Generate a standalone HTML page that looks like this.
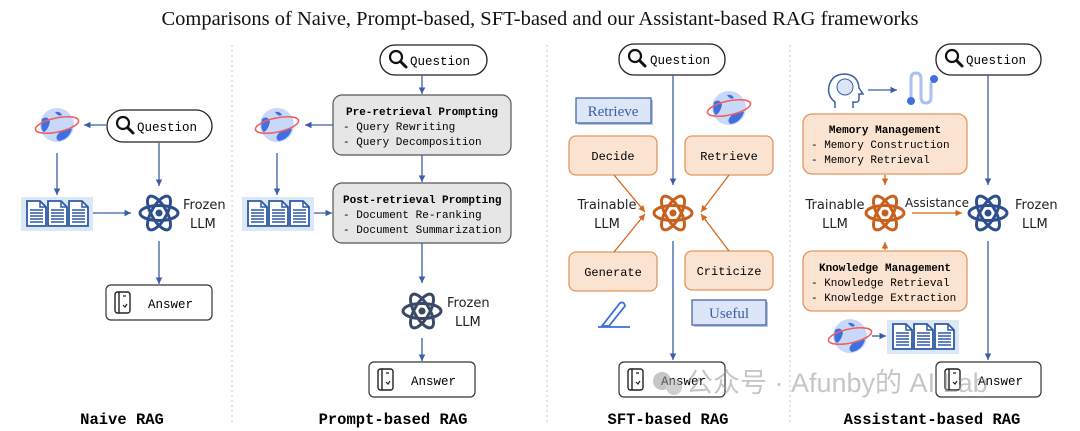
<!DOCTYPE html>
<html><head><meta charset="utf-8"><style>
html,body{margin:0;padding:0;background:#fff;}
svg{display:block}
.m{font-family:"Liberation Mono",monospace;}
.s{font-family:"DejaVu Sans","Liberation Sans",sans-serif;}
</style></head><body>
<svg width="1080" height="431" viewBox="0 0 1080 431" xmlns="http://www.w3.org/2000/svg">
<defs>
<marker id="ab" markerWidth="6" markerHeight="6" refX="5" refY="3" orient="auto"><path d="M0,0.5 L5,3 L0,5.5 z" fill="#3a5ea8"/></marker>
<marker id="ao" markerWidth="6" markerHeight="6" refX="5" refY="3" orient="auto"><path d="M0,0.5 L5,3 L0,5.5 z" fill="#d2691e"/></marker>
<g id="atom">
<ellipse cx="0" cy="0" rx="19" ry="7.5" fill="none" stroke-width="3"/>
<ellipse cx="0" cy="0" rx="19" ry="7.5" fill="none" stroke-width="3" transform="rotate(60)"/>
<ellipse cx="0" cy="0" rx="19" ry="7.5" fill="none" stroke-width="3" transform="rotate(120)"/>
<circle r="3.5" stroke="none"/>
</g>
<g id="globe">
<circle r="17" fill="#c8d8f8"/>
<path d="M-15,-6 q6,-4 8,3 q-2,8 -6,10 q-4,-2 -2,-13z" fill="#3f6fe0"/>
<path d="M4,6 q8,-4 11,-2 q-3,10 -13,12 q-6,-3 2,-10z" fill="#3f6fe0"/>
<path d="M-2,-13 q5,-1 7,3 q-4,2 -7,-3z" fill="#3f6fe0"/>
<ellipse rx="22" ry="7" fill="none" stroke="#f06060" stroke-width="1.6" transform="rotate(-12)"/>
</g>
<g id="doc">
<path d="M0,0 h13 l6,6 v19 h-19 z" fill="#fff" stroke="#2e5aa8" stroke-width="1.8"/>
<path d="M13,0 v6 h6" fill="none" stroke="#2e5aa8" stroke-width="1.5"/>
<path d="M3,9 h13 M3,12 h13 M3,15 h13 M3,18 h13 M3,21 h13" stroke="#2e5aa8" stroke-width="1.5"/>
</g>
<g id="docs">
<rect x="0" y="0" width="72" height="34" fill="#dce8f6"/>
<use href="#doc" x="6" y="4"/><use href="#doc" x="27" y="4"/><use href="#doc" x="48" y="4"/>
</g>
<g id="mag">
<circle cx="7" cy="7" r="6" fill="none" stroke="#111" stroke-width="2.2"/>
<path d="M11.5,11.5 L17,17" stroke="#111" stroke-width="3" stroke-linecap="round"/>
</g>
<g id="ans">
<rect x="0" y="0" width="15" height="21" rx="2.5" fill="none" stroke="#222" stroke-width="1.4"/>
<path d="M4,0 v21" stroke="#222" stroke-width="1.4"/>
<path d="M8,4 h3 M8,13 l2,2 l2,-3" stroke="#222" stroke-width="1.2" fill="none"/>
</g>
</defs>

<text x="540" y="25" text-anchor="middle" font-family="Liberation Serif, serif" font-size="20.5" fill="#111">Comparisons of Naive, Prompt-based, SFT-based and our Assistant-based RAG frameworks</text>

<g stroke="#c8c8c8" stroke-width="1" stroke-dasharray="2,3">
<line x1="232" y1="45" x2="232" y2="425"/>
<line x1="547" y1="45" x2="547" y2="425"/>
<line x1="790" y1="45" x2="790" y2="425"/>
</g>

<!-- Naive -->
<rect x="107" y="110" width="105" height="32" rx="16" fill="#fff" stroke="#222" stroke-width="1.3"/>
<use href="#mag" x="116" y="116"/>
<text x="137" y="131" class="m" font-size="12.5">Question</text>
<use href="#globe" x="57" y="125"/>
<line x1="106" y1="125" x2="84" y2="125" stroke="#3a5ea8" stroke-width="1.3" marker-end="url(#ab)"/>
<line x1="57" y1="153" x2="57" y2="195" stroke="#3a5ea8" stroke-width="1.3" marker-end="url(#ab)"/>
<use href="#docs" x="21" y="197"/>
<line x1="93" y1="213" x2="131" y2="213" stroke="#3a5ea8" stroke-width="1.3" marker-end="url(#ab)"/>
<line x1="159" y1="143" x2="159" y2="186" stroke="#3a5ea8" stroke-width="1.3" marker-end="url(#ab)"/>
<use href="#atom" x="159" y="213" stroke="#2e4f8f" fill="#2e4f8f"/>
<text x="183" y="209" class="s" font-size="13" fill="#222">Frozen</text>
<text x="190" y="228" class="s" font-size="13" fill="#222">LLM</text>
<line x1="159" y1="241" x2="159" y2="284" stroke="#3a5ea8" stroke-width="1.3" marker-end="url(#ab)"/>
<rect x="106" y="285" width="106" height="35" rx="5" fill="#fff" stroke="#333" stroke-width="1.2"/>
<use href="#ans" x="115" y="292"/>
<text x="148" y="308" class="m" font-size="12.5">Answer</text>
<text x="122" y="424" text-anchor="middle" class="m" font-size="15.5" font-weight="bold">Naive RAG</text>

<!-- Prompt -->
<rect x="380" y="45" width="107" height="30" rx="15" fill="#fff" stroke="#222" stroke-width="1.3"/>
<use href="#mag" x="389" y="50"/>
<text x="410" y="65" class="m" font-size="12.5">Question</text>
<line x1="422" y1="75" x2="422" y2="94" stroke="#3a5ea8" stroke-width="1.3" marker-end="url(#ab)"/>
<rect x="333" y="95" width="178" height="60" rx="9" fill="#e6e6e6" stroke="#555" stroke-width="1.2"/>
<text x="346" y="115" class="m" font-size="11" font-weight="bold">Pre-retrieval Prompting</text>
<text x="343" y="130" class="m" font-size="11">- Query Rewriting</text>
<text x="343" y="145" class="m" font-size="11">- Query Decomposition</text>
<use href="#globe" x="277" y="125"/>
<line x1="333" y1="125" x2="305" y2="125" stroke="#3a5ea8" stroke-width="1.3" marker-end="url(#ab)"/>
<line x1="277" y1="153" x2="277" y2="195" stroke="#3a5ea8" stroke-width="1.3" marker-end="url(#ab)"/>
<line x1="422" y1="155" x2="422" y2="182" stroke="#3a5ea8" stroke-width="1.3" marker-end="url(#ab)"/>
<rect x="333" y="183" width="178" height="60" rx="9" fill="#e6e6e6" stroke="#555" stroke-width="1.2"/>
<text x="343" y="203" class="m" font-size="11" font-weight="bold">Post-retrieval Prompting</text>
<text x="343" y="218" class="m" font-size="11">- Document Re-ranking</text>
<text x="343" y="233" class="m" font-size="11">- Document Summarization</text>
<use href="#docs" x="242" y="197"/>
<line x1="314" y1="213" x2="332" y2="213" stroke="#3a5ea8" stroke-width="1.3" marker-end="url(#ab)"/>
<line x1="422" y1="243" x2="422" y2="283" stroke="#3a5ea8" stroke-width="1.3" marker-end="url(#ab)"/>
<use href="#atom" x="422" y="311" stroke="#3a4a66" fill="#3a4a66"/>
<text x="447" y="307" class="s" font-size="13" fill="#222">Frozen</text>
<text x="455" y="326" class="s" font-size="13" fill="#222">LLM</text>
<line x1="422" y1="338" x2="422" y2="361" stroke="#3a5ea8" stroke-width="1.3" marker-end="url(#ab)"/>
<rect x="369" y="362" width="106" height="35" rx="5" fill="#fff" stroke="#333" stroke-width="1.2"/>
<use href="#ans" x="378" y="369"/>
<text x="411" y="385" class="m" font-size="12.5">Answer</text>
<text x="393" y="424" text-anchor="middle" class="m" font-size="15.5" font-weight="bold">Prompt-based RAG</text>

<!-- SFT -->
<rect x="619" y="44" width="106" height="31" rx="15" fill="#fff" stroke="#222" stroke-width="1.3"/>
<use href="#mag" x="628" y="49"/>
<text x="650" y="64" class="m" font-size="12.5">Question</text>
<line x1="673" y1="75" x2="673" y2="185" stroke="#3a5ea8" stroke-width="1.3" marker-end="url(#ab)"/>
<rect x="578" y="100" width="75" height="25" fill="#b8c4d8"/>
<rect x="576" y="98" width="75" height="25" fill="#dce6f6" stroke="#3a5ea8" stroke-width="1.2"/>
<text x="613" y="116" text-anchor="middle" font-family="Liberation Serif, serif" font-size="15" fill="#3a5ea8">Retrieve</text>
<use href="#globe" x="729" y="108"/>
<g fill="#fbe3d2" stroke="#e3965d" stroke-width="1.3">
<rect x="569" y="136" width="88" height="39" rx="7"/>
<rect x="685" y="136" width="88" height="39" rx="7"/>
<rect x="569" y="252" width="88" height="39" rx="7"/>
<rect x="685" y="251" width="88" height="39" rx="7"/>
</g>
<text x="613" y="160" text-anchor="middle" class="m" font-size="12">Decide</text>
<text x="729" y="160" text-anchor="middle" class="m" font-size="12">Retrieve</text>
<text x="613" y="276" text-anchor="middle" class="m" font-size="12">Generate</text>
<text x="729" y="275" text-anchor="middle" class="m" font-size="12">Criticize</text>
<g stroke="#d2691e" stroke-width="1.3" fill="none">
<line x1="614" y1="175" x2="645" y2="212" marker-end="url(#ao)"/>
<line x1="614" y1="252" x2="645" y2="214" marker-end="url(#ao)"/>
<line x1="729" y1="175" x2="701" y2="212" marker-end="url(#ao)"/>
<line x1="729" y1="251" x2="701" y2="214" marker-end="url(#ao)"/>
</g>
<text x="607" y="209" text-anchor="middle" class="s" font-size="13" fill="#222">Trainable</text>
<text x="607" y="228" text-anchor="middle" class="s" font-size="13" fill="#222">LLM</text>
<use href="#atom" x="673" y="213" stroke="#c8601e" fill="#c8601e"/>
<line x1="673" y1="241" x2="673" y2="360" stroke="#3a5ea8" stroke-width="1.3" marker-end="url(#ab)"/>
<path d="M602,326 L620,303 q4,-2 5,3 L609,326 z M598,327 h32" fill="none" stroke="#3a6fd8" stroke-width="1.8"/>
<rect x="694" y="302" width="74" height="25" fill="#b8c4d8"/>
<rect x="692" y="300" width="74" height="25" fill="#dce6f6" stroke="#3a5ea8" stroke-width="1.2"/>
<text x="729" y="318" text-anchor="middle" font-family="Liberation Serif, serif" font-size="15" fill="#3a5ea8">Useful</text>
<rect x="619" y="362" width="106" height="35" rx="5" fill="#fff" stroke="#333" stroke-width="1.2"/>
<use href="#ans" x="628" y="369"/>
<text x="661" y="385" class="m" font-size="12.5">Answer</text>
<text x="668" y="424" text-anchor="middle" class="m" font-size="15.5" font-weight="bold">SFT-based RAG</text>

<!-- Assistant -->
<rect x="936" y="44" width="105" height="31" rx="15" fill="#fff" stroke="#222" stroke-width="1.3"/>
<use href="#mag" x="945" y="49"/>
<text x="966" y="64" class="m" font-size="12.5">Question</text>
<line x1="988" y1="75" x2="988" y2="185" stroke="#3a5ea8" stroke-width="1.3" marker-end="url(#ab)"/>
<path d="M835,108 v-6 q-8,-6 -6,-16 q3,-12 16,-12 q13,1 14,14 l4,6 h-4 v5 q0,4 -6,3 v6" fill="none" stroke="#3a5ea8" stroke-width="1.5"/>
<circle cx="845" cy="87" r="8" fill="#dce6f6" stroke="#3a5ea8" stroke-width="1"/>
<line x1="868" y1="90" x2="897" y2="90" stroke="#3a5ea8" stroke-width="1.3" marker-end="url(#ab)"/>
<path d="M911,101 v-22 q0,-6 5,-6 q5,0 5,6 v18 q0,6 5,6 q5,0 5,-6 v-15" fill="none" stroke="#a9c0f0" stroke-width="3"/>
<circle cx="911" cy="101" r="4" fill="#3f6fe0"/><circle cx="934" cy="79" r="4" fill="#3f6fe0"/>
<rect x="803" y="114" width="164" height="60" rx="9" fill="#fbe3d2" stroke="#e3965d" stroke-width="1.3"/>
<text x="885" y="133" text-anchor="middle" class="m" font-size="11" font-weight="bold">Memory Management</text>
<text x="811" y="148" class="m" font-size="11">- Memory Construction</text>
<text x="811" y="163" class="m" font-size="11">- Memory Retrieval</text>
<line x1="885" y1="175" x2="885" y2="185" stroke="#d2691e" stroke-width="1.3" marker-end="url(#ao)"/>
<use href="#atom" x="885" y="213" stroke="#c8601e" fill="#c8601e"/>
<text x="835" y="209" text-anchor="middle" class="s" font-size="13" fill="#222">Trainable</text>
<text x="835" y="228" text-anchor="middle" class="s" font-size="13" fill="#222">LLM</text>
<text x="937" y="207" text-anchor="middle" class="s" font-size="12" fill="#222">Assistance</text>
<line x1="912" y1="213" x2="962" y2="213" stroke="#d2691e" stroke-width="1.3" marker-end="url(#ao)"/>
<use href="#atom" x="988" y="213" stroke="#2e4f8f" fill="#2e4f8f"/>
<text x="1015" y="209" class="s" font-size="13" fill="#222">Frozen</text>
<text x="1022" y="228" class="s" font-size="13" fill="#222">LLM</text>
<line x1="885" y1="250" x2="885" y2="242" stroke="#d2691e" stroke-width="1.3" marker-end="url(#ao)"/>
<rect x="803" y="251" width="164" height="60" rx="9" fill="#fbe3d2" stroke="#e3965d" stroke-width="1.3"/>
<text x="885" y="271" text-anchor="middle" class="m" font-size="11" font-weight="bold">Knowledge Management</text>
<text x="811" y="286" class="m" font-size="11">- Knowledge Retrieval</text>
<text x="811" y="301" class="m" font-size="11">- Knowledge Extraction</text>
<use href="#globe" x="850" y="336"/>
<line x1="872" y1="336" x2="886" y2="336" stroke="#3a5ea8" stroke-width="1.3" marker-end="url(#ab)"/>
<use href="#docs" x="887" y="320"/>
<line x1="988" y1="241" x2="988" y2="360" stroke="#3a5ea8" stroke-width="1.3" marker-end="url(#ab)"/>
<rect x="936" y="362" width="105" height="35" rx="5" fill="#fff" stroke="#333" stroke-width="1.2"/>
<use href="#ans" x="945" y="369"/>
<text x="978" y="385" class="m" font-size="12.5">Answer</text>
<text x="932" y="424" text-anchor="middle" class="m" font-size="15.5" font-weight="bold">Assistant-based RAG</text>

<!-- watermark -->
<g opacity="0.55">
<circle cx="662" cy="381" r="9" fill="#999"/><circle cx="674" cy="387" r="8" fill="#aaa"/>
<text x="686" y="392" font-family="Liberation Sans, Noto Sans CJK SC, sans-serif" font-size="27" fill="#999">公众号 · Afunby的 AI Lab</text>
</g>
</svg>
</body></html>
